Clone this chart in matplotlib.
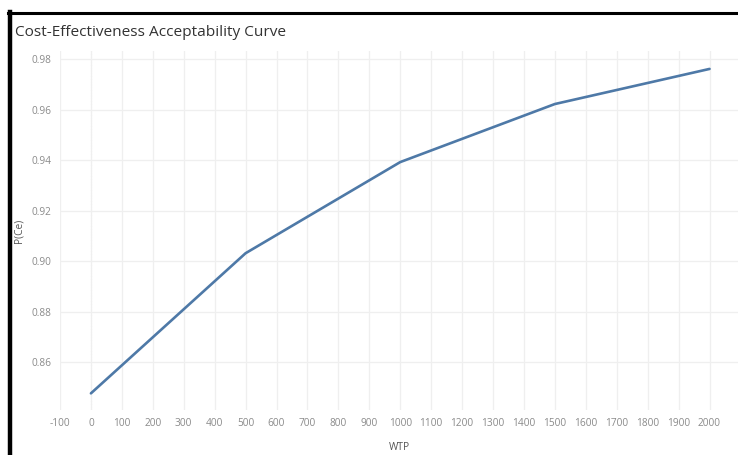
import matplotlib.pyplot as plt
from matplotlib.lines import Line2D

# CEAC values
wtp = [0, 500, 1000, 1500, 2000]
p_ce = [0.8477, 0.9032, 0.9393, 0.9623, 0.9762]
xticks = list(range(-100, 2001, 100))
yticks = [0.86, 0.88, 0.90, 0.92, 0.94, 0.96, 0.98]

plt.rcParams['font.family'] = ['Open Sans', 'DejaVu Sans']
plt.rcParams['axes.unicode_minus'] = False

W, H = 738, 455
fig = plt.figure(figsize=(W / 100, H / 100), dpi=100)
ax = fig.add_axes([60 / W, 1 - 410 / H, 1 - 60 / W, (410 - 51) / H])

ax.plot(wtp, p_ce, color='#4e79a7', lw=1.9, solid_capstyle='round', zorder=3)

ax.set_xlim(-100, 2092)
ax.set_ylim(0.8411, 0.9833)
ax.set_xticks(xticks)
ax.set_yticks(yticks)
ax.set_yticklabels(['%.2f' % v for v in yticks])
ax.grid(True, color='#efefef', lw=0.9, zorder=0)
ax.axvline(0, color='#d8d8d8', lw=0.8, ls=(0, (1, 1.5)), zorder=1)
for s in ax.spines.values():
    s.set_visible(False)
ax.tick_params(length=0, labelsize=7.3, colors='#8a8a8a', pad=6)
ax.set_xlabel('WTP', fontsize=7.3, color='#555555', labelpad=9)
ax.set_ylabel('P(Ce)', fontsize=7.3, color='#555555')
ax.yaxis.set_label_coords((25 - 60) / (W - 60), 0.5)

fig.text(15 / W, 1 - 33 / H, 'Cost-Effectiveness Acceptability Curve',
         fontsize=11.1, color='#333333', va='center', ha='left')

# black frame edges of the screenshot
fig.add_artist(Line2D([8 / W, 1], [1 - 13 / H, 1 - 13 / H], color='black', lw=2.2,
                      transform=fig.transFigure))
fig.add_artist(Line2D([10 / W, 10 / W], [0, 1 - 12 / H], color='black', lw=3.2,
                      transform=fig.transFigure))

fig.savefig('out.png', dpi=100)
